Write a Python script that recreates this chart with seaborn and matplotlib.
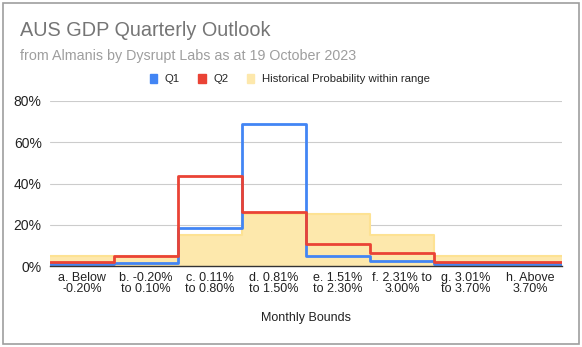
import numpy as np
import pandas as pd
import matplotlib
matplotlib.use("Agg")
import matplotlib.pyplot as plt
import seaborn as sns
from matplotlib.patches import Rectangle, Patch

categories = ["a. Below\n-0.20%", "b. -0.20%\nto 0.10%", "c. 0.11%\nto 0.80%",
              "d. 0.81%\nto 1.50%", "e. 1.51%\nto 2.30%", "f. 2.31% to\n3.00%",
              "g. 3.01%\nto 3.70%", "h. Above\n3.70%"]
q1 = [1.0, 1.5, 18.5, 69.0, 4.7, 2.6, 0.8, 0.8]
q2 = [1.8, 5.0, 43.8, 26.0, 10.8, 6.2, 1.8, 1.8]
hist = [5.0, 5.0, 15.0, 25.0, 25.0, 15.0, 5.0, 5.0]
yticks = [0, 20, 40, 60, 80]

sns.set_theme(style="white")
plt.rcParams['font.family'] = ['Liberation Sans', 'DejaVu Sans']

fig = plt.figure(figsize=(5.82, 3.47), dpi=100)
ax = fig.add_axes([50/582, 1-266/347, 512/582, 165/347])

n = len(categories)
xs = np.arange(n + 1)
def ext(v):
    return list(v) + [v[-1]]

df = pd.DataFrame({"x": np.tile(xs, 3),
                   "y": ext(hist) + ext(q1) + ext(q2),
                   "s": ["Historical"] * (n + 1) + ["Q1"] * (n + 1) + ["Q2"] * (n + 1)})

blue = "#4285F4"
red = "#EA4335"
yfill = "#FDE8AC"
yline = "#FDE293"

ax.fill_between(xs, 0, ext(hist), step="post", color=yfill, lw=0, zorder=1)
sns.lineplot(data=df[df.s == "Historical"], x="x", y="y", drawstyle="steps-post",
             color=yline, lw=1.5, ax=ax, zorder=2, legend=False)
sns.lineplot(data=df[df.s == "Q1"], x="x", y="y", drawstyle="steps-post",
             color=blue, lw=2, ax=ax, zorder=3, legend=False)
sns.lineplot(data=df[df.s == "Q2"], x="x", y="y", drawstyle="steps-post",
             color=red, lw=2, ax=ax, zorder=4, legend=False)

ax.set_xlim(0, n)
ax.set_ylim(0, 80)
ax.set_yticks(yticks)
ax.set_yticklabels([f"{t}%" for t in yticks], fontsize=10, color="#222222")
ax.set_xticks(np.arange(n) + 0.5)
ax.set_xticklabels(categories, fontsize=9, color="#222222", linespacing=0.95)
ax.tick_params(axis="both", length=0, pad=4)
ax.tick_params(axis="y", pad=6)
ax.grid(axis="y", color="#CCCCCC", lw=0.8, zorder=0)
ax.set_axisbelow(True)
for s in ["top", "right", "left"]:
    ax.spines[s].set_visible(False)
ax.spines["bottom"].set_color("#333333")
ax.spines["bottom"].set_linewidth(1.0)
ax.spines["bottom"].set_zorder(5)
ax.set_xlabel("Monthly Bounds", fontsize=9, color="#222222", labelpad=12)
ax.set_ylabel("")

fig.text(20/582, 1-31/347, "AUS GDP Quarterly Outlook", fontsize=14.3, color="#757575", va="center")
fig.text(20/582, 1-56/347, "from Almanis by Dysrupt Labs as at 19 October 2023", fontsize=10.3,
         color="#9E9E9E", va="center")

handles = [Patch(color=blue), Patch(color=red), Patch(color=yfill)]
fig.legend(handles, ["Q1", "Q2", "Historical Probability within range"],
           loc="center", bbox_to_anchor=(290/582, 1-79/347), ncol=3, frameon=False,
           fontsize=8.2, handlelength=0.65, handleheight=0.8, handletextpad=0.7, columnspacing=1.6)

fig.patches.append(Rectangle((2.5/582, 3/347), 576/582, 341/347, transform=fig.transFigure,
                             fill=False, edgecolor="#9E9E9E", lw=1.2))

fig.savefig("out.png", dpi=100)
